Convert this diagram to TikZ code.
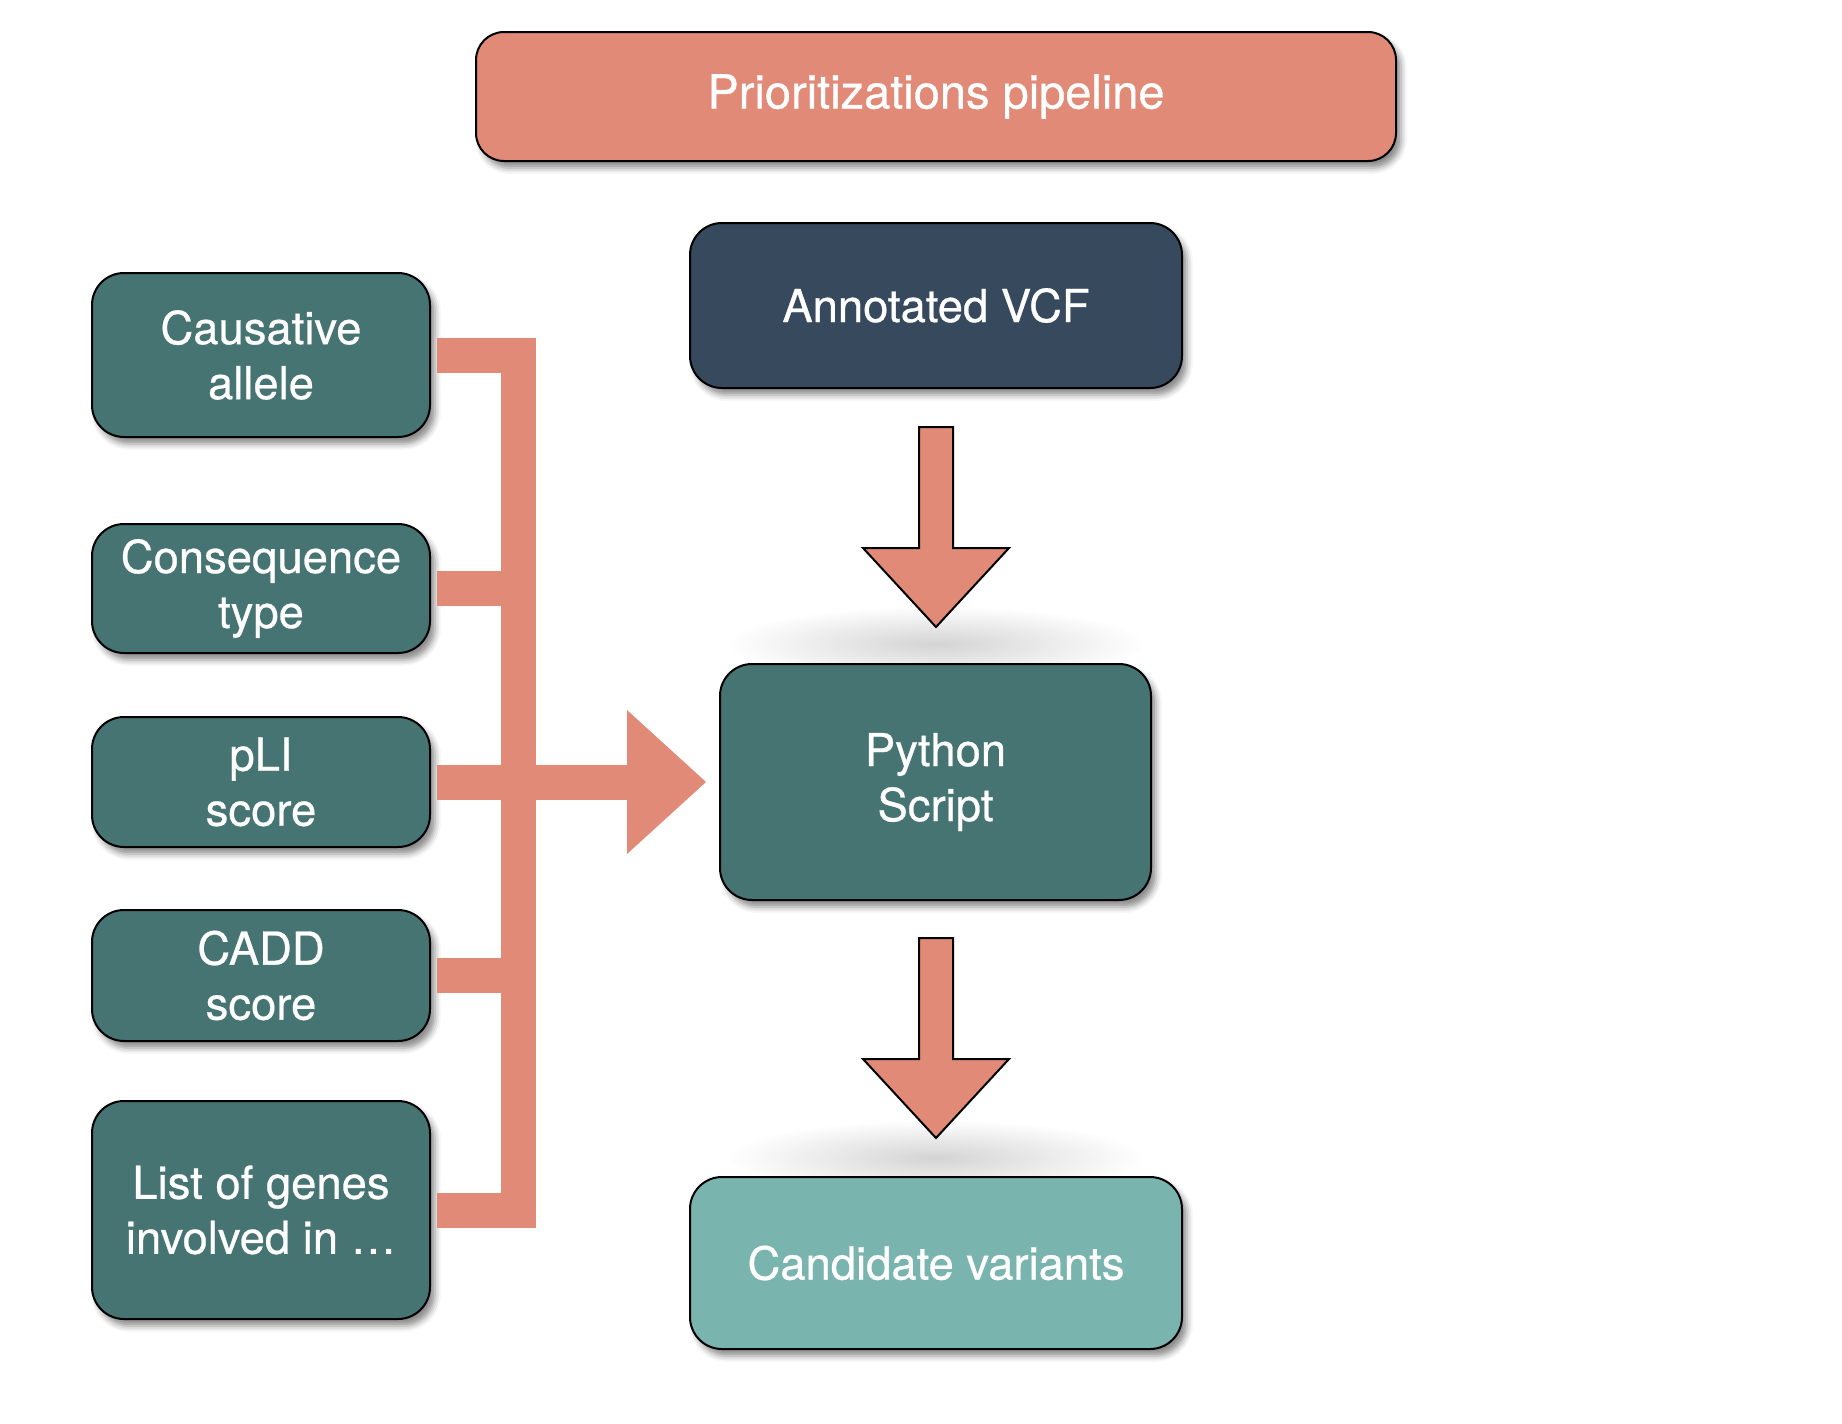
\documentclass[tikz,border=0pt]{standalone}
\usepackage{fontspec}
\setmainfont{TeX Gyre Heros}[FakeBold=0.6]
\usetikzlibrary{arrows.meta,calc,shadows.blur}

\definecolor{salmon}{RGB}{225,138,119}
\definecolor{slate}{RGB}{55,73,92}
\definecolor{tealdark}{RGB}{70,116,114}
\definecolor{teallight}{RGB}{121,181,174}

\tikzset{
	box/.style={draw=black, line width=1pt, rounded corners=16pt, text=white, align=center,
		font=\fontsize{22.7}{27.5}\selectfont,
		blur shadow={shadow xshift=2.5pt, shadow yshift=-3.5pt, shadow blur radius=3pt, shadow opacity=45}},
	bus/.style={draw=salmon, line width=17.5pt, line join=miter},
	fatarrow/.style={draw=black, line width=1pt, fill=salmon},
	tipshadow/.style={inner color=black!17, outer color=white},
}

\begin{document}
\begin{tikzpicture}[x=0.5pt,y=0.5pt,yscale=-1,xscale=1]
	\useasboundingbox (0,0) rectangle (1842,1424);
	
	%Shape: Rounded Rect [title]
	\node[box, fill=salmon, rounded corners=14pt, font=\fontsize{23.5}{27.5}\selectfont, minimum width=460pt, minimum height=64.5pt] (title) at (936,96.5) {Prioritizations pipeline};
	
	%Shape: Rounded Rect [inputs]
	\node[box, fill=tealdark, minimum width=169pt, minimum height=82pt] (causal) at (261,355) {Causative\\allele};
	\node[box, fill=tealdark, minimum width=169pt, minimum height=64.5pt] (conseq) at (261,588.5) {Consequence\\type};
	\node[box, fill=tealdark, minimum width=169pt, minimum height=65pt] (pli) at (261,782) {pLI\\score};
	\node[box, fill=tealdark, minimum width=169pt, minimum height=65.5pt] (cadd) at (261,975.5) {CADD\\score};
	\node[box, fill=tealdark, minimum width=169pt, minimum height=109pt] (genes) at (261,1210) {List of genes\\involved in …};
	
	%Shape: Rounded Rect [main column]
	\node[box, fill=slate, minimum width=246pt, minimum height=82.5pt] (vcf) at (936,305.5) {Annotated VCF};
	
	% soft shadows under the arrow tips
	\shade[tipshadow] ($(vcf.south)+(0,255)$) ellipse (210 and 38);
	\shade[tipshadow] ($(vcf.south)+(0,769)$) ellipse (210 and 38);
	
	\node[box, fill=tealdark, minimum width=215.5pt, minimum height=118pt] (python) at (935.5,782) {Python\\Script};
	\node[box, fill=teallight, minimum width=246pt, minimum height=86pt] (cand) at (936,1263) {Candidate variants};
	
	%Bus: inputs to script
	\coordinate (bustop) at (518,355);
	\coordinate (busbot) at (518,1210);
	\draw[bus] ([xshift=3pt]causal.east) -- (bustop) -- (busbot) -- ([xshift=3pt]genes.east);
	\draw[bus] ([xshift=3pt]conseq.east) -- (conseq.east -| bustop);
	\draw[bus] ([xshift=3pt]cadd.east) -- (cadd.east -| bustop);
	\draw[bus, -{Triangle[length=39.5pt, width=72pt, line width=0pt]}] ([xshift=3pt]pli.east) -- ([xshift=-6.5pt]python.west);
	
	%Shape: Down Arrows
	\draw[fatarrow] ($(vcf.south)+(-17,38)$) -- ++(0,121) -- ++(-56,0) -- ++(73,79) -- ++(73,-79) -- ++(-56,0) -- ++(0,-121) -- cycle;
	\draw[fatarrow] ($(python.south)+(-16.5,37)$) -- ++(0,121) -- ++(-56,0) -- ++(73,79) -- ++(73,-79) -- ++(-56,0) -- ++(0,-121) -- cycle;
	
\end{tikzpicture}
\end{document}
